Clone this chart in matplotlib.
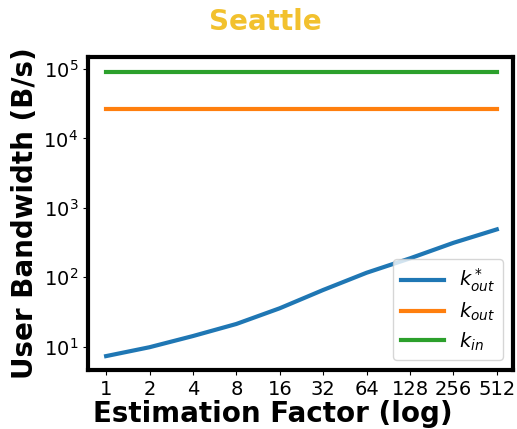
import matplotlib
matplotlib.use('Agg')
from matplotlib import pyplot as plt
from matplotlib import ticker


factors = ['1', '2', '4', '8', '16', '32', '64', '128', '256', '512']
k_out_star = [7.3, 9.8, 14.2, 21.2, 35.7, 65.5, 116, 187, 313, 489]
k_out = [26600] * len(factors)
k_in = [92000] * len(factors)

title_color = '#f2c12e'

fig = plt.figure(figsize=(5.17, 4.29), dpi=100)
ax = fig.add_axes([0.170, 0.1375, 0.822, 0.730])

x = range(len(factors))
ax.plot(x, k_out_star, linewidth=3, label=r'$k^*_{out}$')
ax.plot(x, k_out, linewidth=3, label=r'$k_{out}$')
ax.plot(x, k_in, linewidth=3, label=r'$k_{in}$')

ax.set_yscale('log')
ax.set_ylim(4.6, 1.5e5)
ax.set_xlim(-0.42, 9.37)
ax.set_xticks(list(x))
ax.set_xticklabels(factors)
ax.yaxis.set_minor_locator(ticker.NullLocator())
ax.tick_params(labelsize=14)

for spine in ax.spines.values():
    spine.set_linewidth(3)

ax.set_xlabel('Estimation Factor (log)', fontsize=20, fontweight='bold', labelpad=1)
ax.xaxis.label.set_x(0.436)
ax.set_ylabel('User Bandwidth (B/s)', fontsize=20, fontweight='bold', labelpad=3)

ax.legend(loc='lower right', fontsize=14, labelspacing=0.35, handlelength=2.2)

fig.text(0.513, 0.949, 'Seattle', color=title_color, fontsize=20,
         fontweight='bold', ha='center', va='center')

fig.savefig('out.png', dpi=100)
